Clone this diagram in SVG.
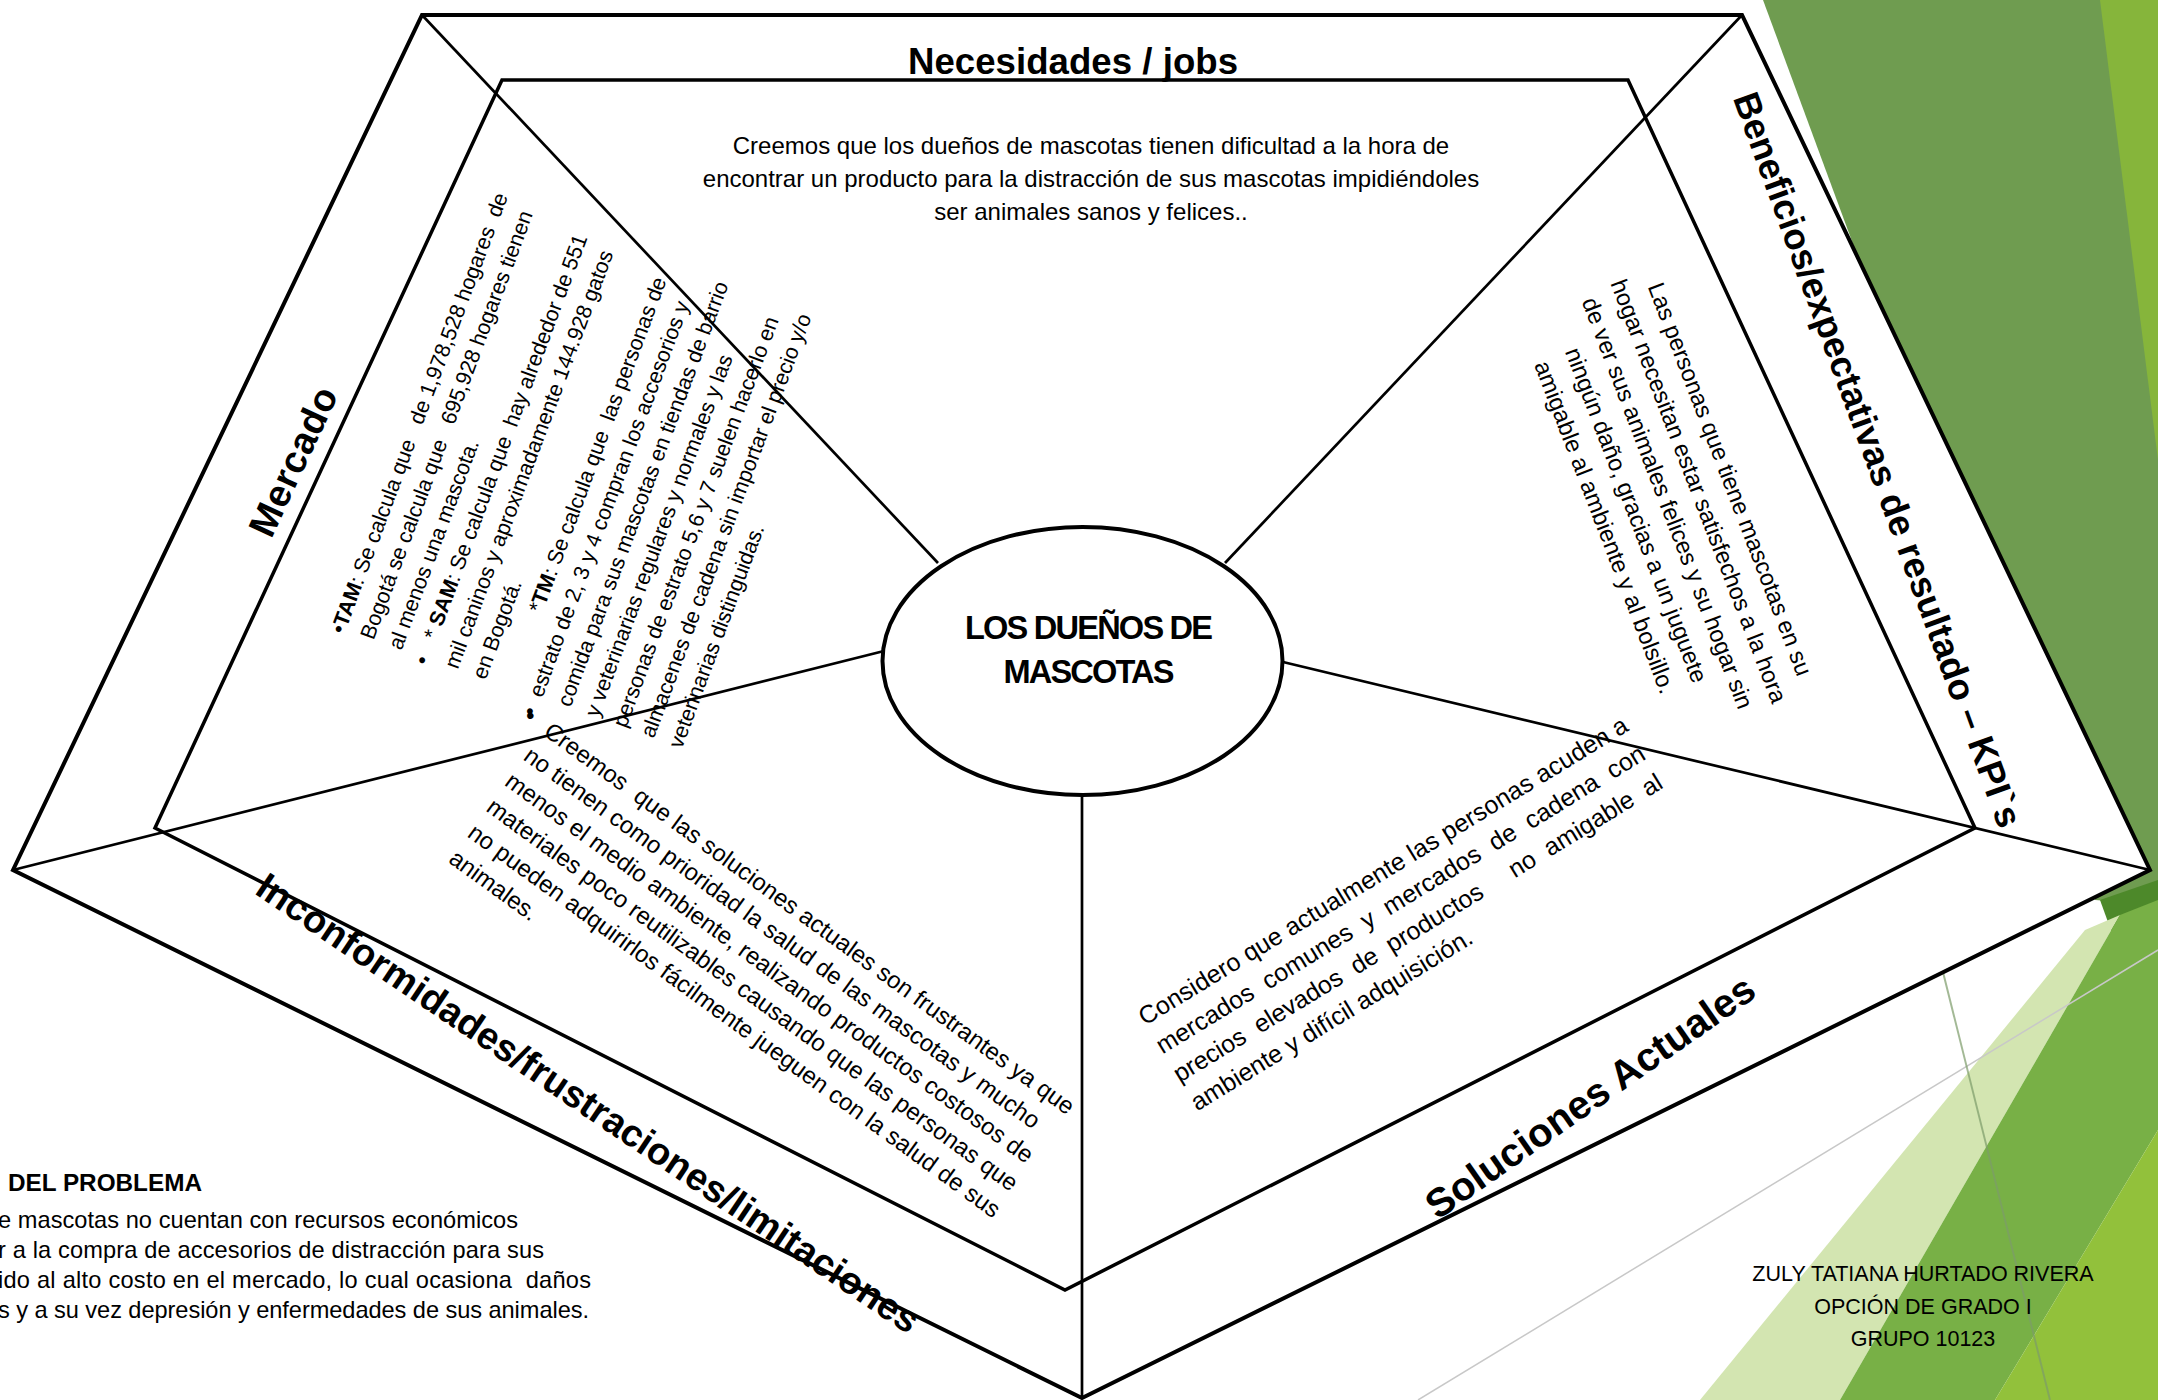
<svg xmlns="http://www.w3.org/2000/svg" width="2158" height="1400" viewBox="0 0 2158 1400">
<style>
.edge{fill:none;stroke:#000;stroke-linejoin:miter}
.conn{stroke:#000;stroke-width:2.7;fill:none}
.t{font-family:"Liberation Sans",Arial,sans-serif;font-weight:bold;fill:#000}
.b{font-family:"Liberation Sans",Arial,sans-serif;fill:#000}
.bd{font-weight:bold}
.pre text{white-space:pre}
</style>
<rect width="2158" height="1400" fill="#fff"/>
<g id="background">
<polygon points="1763,0 2158,0 2158,905 2095,900" fill="#6f9c50"/>
<polygon points="2100,0 2158,0 2158,460" fill="#86b53b"/>
<polygon points="2100,900 2158,880 2158,1060" fill="#4d892a"/>
<polygon points="1700,1400 2085,930 2120,915 1840,1400" fill="#d3e5b1"/>
<polygon points="1840,1400 2120,915 2158,900 2158,1130 1995,1400" fill="#78b046"/>
<polygon points="1995,1400 2158,1130 2158,1400" fill="#92c13b"/>
<line x1="1418" y1="1400" x2="2158" y2="950" stroke="#c8c8c8" stroke-width="1.5"/>
<line x1="1940" y1="960" x2="2050" y2="1400" stroke="#7d9c6a" stroke-width="2" opacity="0.7"/>
</g>
<g id="canvas">
<polygon class="edge" points="422,15 1742,15 2150,870 1082,1398 13,870" style="fill:#fff" stroke-width="4"/>
<polygon class="edge" points="502,80 1628,80 1975,828 1065,1290 155,828" stroke-width="3.5"/>
</g>
<g id="connectors">
<line class="conn" x1="422" y1="15" x2="938" y2="563"/>
<line class="conn" x1="1742" y1="15" x2="1225" y2="563"/>
<line class="conn" x1="13" y1="870" x2="888" y2="650"/>
<line class="conn" x1="2150" y1="870" x2="1283" y2="662"/>
<line class="conn" x1="1082" y1="1398" x2="1082" y2="795" stroke-width="2.5"/>
</g>
<g id="node-center">
<ellipse cx="1082.5" cy="661" rx="200" ry="134" fill="#fff" stroke="#000" stroke-width="4"/>
<text class="t" font-size="32.6" text-anchor="middle" x="1089" y="639" textLength="248">LOS DUEÑOS DE</text>
<text class="t" font-size="32.6" text-anchor="middle" x="1089" y="683" textLength="171">MASCOTAS</text>
</g>
<g id="node-necesidades">
<text class="t" font-size="36.6" text-anchor="middle" x="1073" y="74" textLength="330">Necesidades / jobs</text>
<g class="b" font-size="24" text-anchor="middle">
<text x="1091" y="154">Creemos que los dueños de mascotas tienen dificultad a la hora de</text>
<text x="1091" y="187">encontrar un producto para la distracción de sus mascotas impidiéndoles</text>
<text x="1091" y="220">ser animales sanos y felices..</text>
</g>
</g>
<g id="node-mercado">
<text class="t" font-size="38" text-anchor="middle" transform="translate(305,467) rotate(-65)" textLength="160">Mercado</text>
<g class="b pre" font-size="21.5" transform="translate(344,635) rotate(-69.5)">
<text x="0" y="0">•<tspan class="bd">TAM</tspan>: Se calcula que   de 1,978,528 hogares  de</text>
<text x="5" y="29.7">Bogotá se calcula que   695,928 hogares tienen</text>
<text x="5" y="59.4">al menos una mascota.</text>
<text x="0" y="89.1">•</text>
<text x="27" y="89.1">* <tspan class="bd">SAM</tspan>: Se calcula que  hay alrededor de 551</text>
<text x="7" y="118.8">mil caninos y aproximadamente 144.928 gatos</text>
<text x="7" y="148.5">en Bogotá.</text>
<text x="89" y="178.2">*<tspan class="bd">TM</tspan>: Se calcula que  las personas de</text>
<text x="-10" y="207.9">•</text>
<text x="10" y="207.9">estrato de 2, 3 y 4 compran los accesorios y</text>
<text x="11" y="237.6">comida para sus mascotas en tiendas de barrio</text>
<text x="11" y="267.3">y veterinarias regulares y normales y las</text>
<text x="11" y="297">personas de estrato 5,6 y 7 suelen hacerlo en</text>
<text x="11" y="326.7">almacenes de cadena sin importar el precio y/o</text>
<text x="11" y="356.4">veterinarias distinguidas.</text>
</g>
</g>
<g id="node-beneficios">
<text class="t" font-size="36.6" text-anchor="middle" transform="translate(1866,464) rotate(70)" textLength="779">Beneficios/expectativas de resultado – KPI`s</text>
<g class="b" font-size="23.7" text-anchor="middle" transform="translate(1660,506) rotate(69)">
<text x="0" y="-67">Las personas que tiene mascotas en su</text>
<text x="0" y="-33.5">hogar necesitan estar satisfechos a la hora</text>
<text x="0" y="0">de ver sus animales felices y su hogar sin</text>
<text x="0" y="33.5">ningún daño, gracias a un juguete</text>
<text x="0" y="67">amigable al ambiente y al bolsillo.</text>
</g>
</g>
<g id="node-soluciones">
<text class="t" font-size="40" text-anchor="middle" transform="translate(1598,1108) rotate(-35)" textLength="392">Soluciones Actuales</text>
<g class="b pre" font-size="25" transform="translate(1145,1026) rotate(-31.4)">
<text x="0" y="0" textLength="568">Considero que actualmente las personas acuden a</text>
<text x="0" y="33.4" textLength="568">mercados  comunes  y  mercados  de  cadena  con</text>
<text x="0" y="66.8" textLength="568">precios  elevados  de  productos     no  amigable  al</text>
<text x="0" y="100.2">ambiente y difícil adquisición.</text>
</g>
</g>
<g id="node-inconformidades">
<text class="t" font-size="38" text-anchor="middle" transform="translate(581,1114) rotate(34)" textLength="790">Inconformidades/frustraciones/limitaciones</text>
<g class="b pre" font-size="24" transform="translate(542.5,734.4) rotate(36)">
<text x="-25" y="0">•</text>
<text x="0" y="0">Creemos  que las soluciones actuales son frustrantes ya que</text>
<text x="-2" y="31.75">no tienen como prioridad la salud de las mascotas y mucho</text>
<text x="-2" y="63.5">menos el medio ambiente, realizando productos costosos de</text>
<text x="-2" y="95.25">materiales poco reutilizables causando que las personas que</text>
<text x="-2" y="127">no pueden adquirirlos fácilmente jueguen con la salud de sus</text>
<text x="-2" y="158.75">animales.</text>
</g>
</g>
<g id="node-problema">
<text class="t" font-size="24.3" x="8" y="1191">DEL PROBLEMA</text>
<g class="b pre" font-size="23.6">
<text x="-2" y="1228" textLength="520">e mascotas no cuentan con recursos económicos</text>
<text x="-2" y="1258" textLength="546">r a la compra de accesorios de distracción para sus</text>
<text x="-2" y="1288" textLength="593">ido al alto costo en el mercado, lo cual ocasiona  daños</text>
<text x="-2" y="1318" textLength="591">s y a su vez depresión y enfermedades de sus animales.</text>
</g>
</g>
<g id="node-autor">
<g class="b" font-size="21.5" text-anchor="middle" fill="#222">
<text x="1923" y="1281">ZULY TATIANA HURTADO RIVERA</text>
<text x="1923" y="1314">OPCIÓN DE GRADO I</text>
<text x="1923" y="1346">GRUPO 10123</text>
</g>
</g>
</svg>
